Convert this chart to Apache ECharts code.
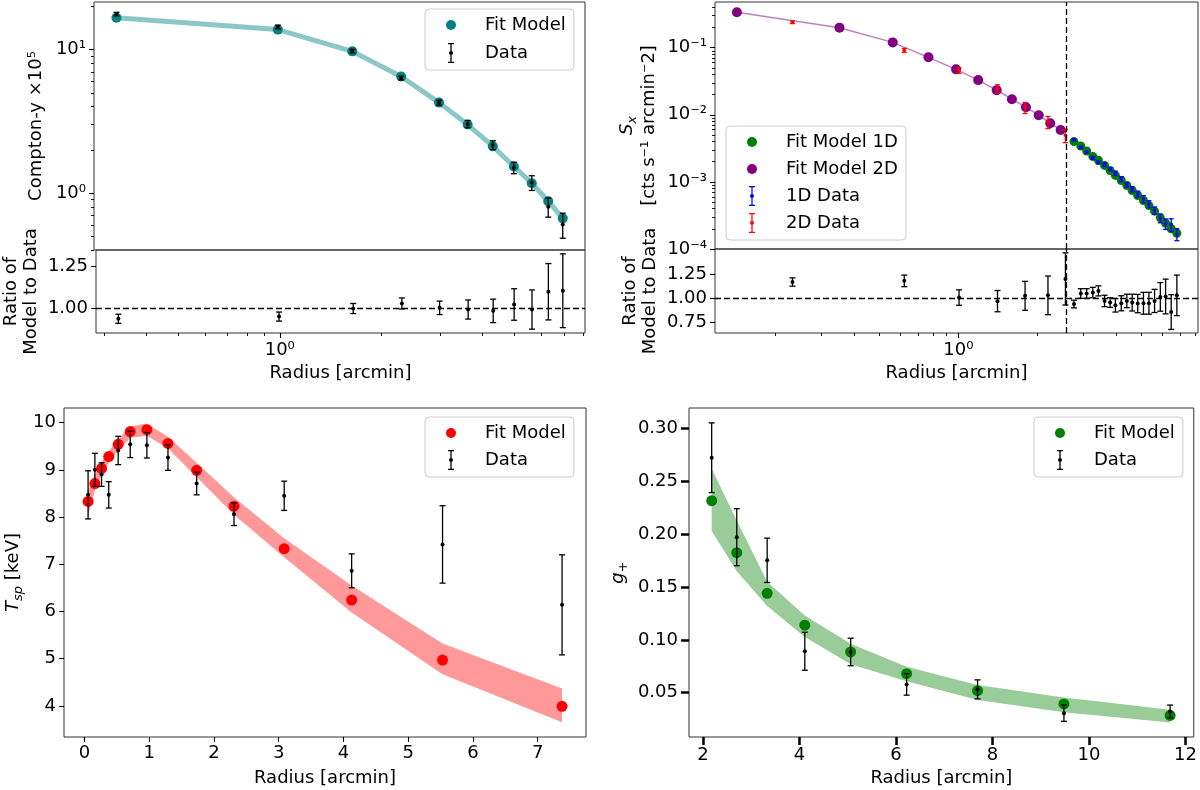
<!DOCTYPE html>
<html>
<head>
<meta charset="utf-8">
<script src="https://cdn.jsdelivr.net/npm/echarts@6.0.0/dist/echarts.min.js"></script>
<style>
html, body { margin: 0; padding: 0; background: #fff; }
#chart { width: 1200px; height: 790px; }
</style>
</head>
<body>
<div id="chart"></div>
<script>
// ---- values ----

// top left: Compton-y profile
var tlRadius = [0.331, 0.995, 1.654, 2.308, 2.988, 3.633, 4.313, 4.979, 5.627, 6.295, 6.95];
var tlModel = [16.7, 13.8, 9.73, 6.50, 4.27, 3.00, 2.12, 1.53, 1.17, 0.876, 0.665];
var tlData = [17.7, 14.4, 9.77, 6.34, 4.27, 3.03, 2.16, 1.50, 1.18, 0.80, 0.603];
var tlDataErr = [0.51, 0.42, 0.29, 0.20, 0.17, 0.175, 0.153, 0.138, 0.139, 0.122, 0.12];
var tlRatio = [0.935, 0.948, 0.996, 1.026, 1.0, 0.99, 0.982, 1.02, 0.99, 1.096, 1.102];
var tlRatioErr = [0.027, 0.027, 0.03, 0.033, 0.04, 0.057, 0.07, 0.094, 0.117, 0.168, 0.22];

// top right: X-ray surface brightness
var trRadiusModel2D = [0.143, 0.352, 0.562, 0.769, 0.98, 1.19, 1.40, 1.60, 1.81, 2.025, 2.24, 2.454];
var trModel2D = [0.338, 0.199, 0.120, 0.0719, 0.0476, 0.0329, 0.0233, 0.0171, 0.0130, 0.00987, 0.00749, 0.00594];
var trRadius2D = [0.233, 0.622, 1.006, 1.41, 1.796, 2.196, 2.56];
var trData2D = [0.240, 0.0914, 0.0459, 0.0247, 0.01285, 0.00784, 0.00496];
var trData2DErr = [0.011, 0.0062, 0.0042, 0.0033, 0.0024, 0.0016, 0.00112];
var trRadius1D = [2.76, 2.93, 3.085, 3.255, 3.42, 3.61, 3.79, 3.97, 4.18, 4.39, 4.60, 4.83, 5.08, 5.33, 5.60, 5.89, 6.17, 6.48, 6.81];
var trModel1D = [0.00399, 0.00343, 0.00289, 0.00240, 0.00210, 0.00176, 0.00148, 0.00125, 0.00105, 0.000885, 0.000745, 0.000627, 0.000528, 0.000444, 0.000366, 0.000292, 0.000242, 0.000200, 0.000172];
var trData1D = [0.00424, 0.00327, 0.00276, 0.00227, 0.00195, 0.00181, 0.00155, 0.00135, 0.00111, 0.000910, 0.000780, 0.000663, 0.000557, 0.000468, 0.000377, 0.000288, 0.000238, 0.000233, 0.000167];
var trData1DErr = [0.000127, 0.000124, 0.000105, 0.000116, 0.000094, 0.00011, 0.000081, 0.000102, 0.000091, 0.000066, 0.000071, 0.000066, 0.000066, 0.000056, 0.000046, 0.000042, 0.000042, 0.000049, 0.000034];
var trRatio2D = [1.168, 1.18, 1.007, 0.97, 1.025, 1.03, 1.2];
var trRatio2DErr = [0.043, 0.06, 0.08, 0.11, 0.15, 0.2, 0.27];
var trRatio1D = [0.94, 1.049, 1.049, 1.059, 1.076, 0.972, 0.955, 0.927, 0.948, 0.972, 0.955, 0.945, 0.948, 0.948, 0.972, 1.014, 1.018, 0.857, 1.03];
var trRatio1DErr = [0.04, 0.05, 0.05, 0.054, 0.052, 0.059, 0.05, 0.07, 0.078, 0.07, 0.087, 0.095, 0.113, 0.113, 0.12, 0.148, 0.18, 0.18, 0.21];
var trSplitRadius = 2.57;

// bottom left: spectroscopic temperature
var blRadius = [0.055, 0.160, 0.263, 0.374, 0.52, 0.706, 0.963, 1.289, 1.732, 2.309, 3.084, 4.126, 5.53, 7.376];
var blModel = [8.33, 8.71, 9.03, 9.28, 9.54, 9.81, 9.85, 9.56, 8.99, 8.23, 7.33, 6.24, 4.97, 3.99];
var blUpper = [8.55, 8.9, 9.15, 9.4, 9.65, 9.92, 9.98, 9.7, 9.15, 8.42, 7.55, 6.55, 5.32, 4.37];
var blLower = [8.02, 8.55, 8.9, 9.15, 9.4, 9.68, 9.72, 9.45, 8.85, 8.05, 7.15, 5.98, 4.67, 3.65];
var blData = [8.47, 9.0, 8.90, 8.47, 9.41, 9.54, 9.52, 9.26, 8.71, 8.06, 8.45, 6.86, 7.42, 6.14];
var blDataErr = [0.51, 0.35, 0.25, 0.28, 0.30, 0.28, 0.27, 0.27, 0.24, 0.24, 0.31, 0.36, 0.82, 1.06];

// bottom right: reduced shear
var brRadius = [2.18, 2.70, 3.33, 4.11, 5.06, 6.22, 7.69, 9.48, 11.68];
var brModel = [0.2317, 0.1825, 0.144, 0.1139, 0.0885, 0.0679, 0.0519, 0.0393, 0.0284];
var brUpper = [0.262, 0.213, 0.155, 0.123, 0.0964, 0.0744, 0.0572, 0.0453, 0.0337];
var brLower = [0.203, 0.165, 0.132, 0.1026, 0.0769, 0.0609, 0.0431, 0.0315, 0.0218];
var brData = [0.2724, 0.1972, 0.1753, 0.0892, 0.0885, 0.0578, 0.0531, 0.0306, 0.0322];
var brDataErr = [0.033, 0.027, 0.021, 0.018, 0.013, 0.0102, 0.009, 0.0078, 0.006];

// tick positions
var logMajorX = [1];
var tlMinorX = [0.3, 0.4, 0.5, 0.6, 0.7, 0.8, 0.9, 2, 3, 4, 5, 6, 7, 8];
var trMinorX = [0.2, 0.3, 0.4, 0.5, 0.6, 0.7, 0.8, 0.9, 2, 3, 4, 5, 6, 7, 8];
var tlMajorY = [1, 10];
var tlMinorY = [0.4, 0.5, 0.6, 0.7, 0.8, 0.9, 2, 3, 4, 5, 6, 7, 8, 9, 20];
var trMajorY = [1e-4, 1e-3, 1e-2, 1e-1];
var trMinorY = [];
[1e-4, 1e-3, 1e-2].forEach(function (d) {
  for (var k = 2; k <= 9; k++) trMinorY.push(+(k * d).toPrecision(3));
});
trMinorY.push(0.2, 0.3, 0.4);
var tlRatioTicks = [1.0, 1.25];
var trRatioTicks = [0.75, 1.0, 1.25];
var blTicksX = [0, 1, 2, 3, 4, 5, 6, 7];
var blTicksY = [4, 5, 6, 7, 8, 9, 10];
var brTicksX = [2, 4, 6, 8, 10, 12];
var brTicksY = [0.05, 0.10, 0.15, 0.20, 0.25, 0.30];

// ---- helpers ----
var FONT = 'DejaVu Sans';
var SUP = { '-': '\u207b', '0': '\u2070', '1': '\u00b9', '2': '\u00b2', '3': '\u00b3', '4': '\u2074',
  '5': '\u2075', '6': '\u2076', '7': '\u2077', '8': '\u2078', '9': '\u2079' };
function pow10(v) {
  var e = String(Math.round(Math.log(v) / Math.LN10));
  return '10' + e.split('').map(function (c) { return SUP[c]; }).join('');
}
function fix2(v) { return (+v).toFixed(2); }
function intFmt(v) { return String(Math.round(v)); }

function pairs(xs, ys) { return xs.map(function (x, i) { return [x, ys[i]]; }); }
function errRows(xs, ys, es) {
  return xs.map(function (x, i) { return [x, ys[i], ys[i] - es[i], ys[i] + es[i]]; });
}
function bandRows(xs, lo, hi) { return xs.map(function (x, i) { return [x, lo[i], hi[i]]; }); }

function errorBars(color, cap, dot) {
  return function (params, api) {
    var x = api.value(0);
    var c = api.coord([x, api.value(1)]);
    var lo = api.coord([x, api.value(2)]);
    var hi = api.coord([x, api.value(3)]);
    var ln = { stroke: color, lineWidth: 1.3 };
    return {
      type: 'group',
      children: [
        { type: 'line', shape: { x1: lo[0], y1: lo[1], x2: hi[0], y2: hi[1] }, style: ln },
        { type: 'line', shape: { x1: lo[0] - cap, y1: lo[1], x2: lo[0] + cap, y2: lo[1] }, style: ln },
        { type: 'line', shape: { x1: hi[0] - cap, y1: hi[1], x2: hi[0] + cap, y2: hi[1] }, style: ln },
        { type: 'circle', shape: { cx: c[0], cy: c[1], r: dot }, style: { fill: color } }
      ]
    };
  };
}
// filled model band, drawn once from the whole row set
function band(xs, lo, hi, fill) {
  return function (params, api) {
    if (params.dataIndex !== 0) return null;
    var pts = [];
    for (var i = 0; i < xs.length; i++) pts.push(api.coord([xs[i], hi[i]]));
    for (var j = xs.length - 1; j >= 0; j--) pts.push(api.coord([xs[j], lo[j]]));
    return { type: 'polygon', shape: { points: pts }, style: { fill: fill } };
  };
}

function ticks(vals, len, w) {
  return { show: true, customValues: vals, length: len, lineStyle: { color: '#000', width: w } };
}
function labels(vals, fmt, margin) {
  return { show: true, customValues: vals, formatter: fmt, margin: margin,
    fontFamily: FONT, fontSize: 18, color: '#000' };
}
var nameStyle = {
  fontFamily: FONT, fontSize: 18, color: '#000', lineHeight: 20,
  rich: {
    i: { fontFamily: FONT, fontSize: 18, fontStyle: 'italic', lineHeight: 24, color: '#000' },
    s: { fontFamily: FONT, fontSize: 13, fontStyle: 'italic', verticalAlign: 'bottom', color: '#000' },
    p: { fontFamily: FONT, fontSize: 13, verticalAlign: 'bottom', color: '#000' }
  }
};
function axis(o) {
  var a = { axisLine: { show: false, onZero: false }, splitLine: { show: false },
    axisTick: { show: false }, axisLabel: { show: false } };
  for (var k in o) a[k] = o[k];
  return a;
}
function yName(text, gap) {
  return { name: text, nameLocation: 'middle', nameRotate: 90, nameGap: gap, nameTextStyle: nameStyle };
}
function xName(gap) {
  return { name: 'Radius [arcmin]', nameLocation: 'middle', nameGap: gap, nameTextStyle: nameStyle };
}
function merge(a, b) { for (var k in b) a[k] = b[k]; return a; }

function dashed(data) {
  return { silent: true, symbol: ['none', 'none'], label: { show: false },
    lineStyle: { color: '#000', type: [6, 3], width: 1.3 }, data: data, animation: false };
}

// legend icons: boxes of 55x24 with the glyph at x=26
function dotIcon(r) {
  return 'path://M0,0 M55,24 M' + (26 + r) + ',12 A' + r + ',' + r + ' 0 1 1 ' + (26 - r) + ',12 A' +
    r + ',' + r + ' 0 1 1 ' + (26 + r) + ',12 Z';
}
var ERR_ICON = 'path://M0,0 M55,24 M23,2 L29,2 L29,3.3 L23,3.3 Z M25.35,3.3 L26.65,3.3 L26.65,20.7 L25.35,20.7 Z ' +
  'M23,20.7 L29,20.7 L29,22 L23,22 Z M28,12 A2,2 0 1 1 24,12 A2,2 0 1 1 28,12 Z';
function legendBox(left, top, gap, items) {
  return {
    left: left, top: top, orient: 'vertical', selectedMode: false,
    itemWidth: 55, itemHeight: 24, itemGap: gap, padding: [4, 8, 5, 0],
    backgroundColor: 'rgba(255,255,255,0.8)', borderColor: '#cccccc', borderWidth: 1, borderRadius: 4,
    textStyle: { fontFamily: FONT, fontSize: 18, color: '#000' },
    data: items
  };
}
function item(name, icon, color) {
  return { name: name, icon: icon, itemStyle: { color: color, borderWidth: 0 } };
}

var gridStyle = { show: true, borderColor: '#333', borderWidth: 1, backgroundColor: 'transparent' };

var chart = echarts.init(document.getElementById('chart'));
chart.setOption({
  animation: false,
  backgroundColor: '#fff',
  grid: [
    merge({ left: 94, top: 2, width: 491, height: 248 }, gridStyle),
    merge({ left: 94, top: 250, width: 491, height: 83 }, gridStyle),
    merge({ left: 715, top: 2, width: 483, height: 247 }, gridStyle),
    merge({ left: 715, top: 249, width: 483, height: 84 }, gridStyle),
    merge({ left: 56, top: 408, width: 530, height: 329 }, gridStyle),
    merge({ left: 689, top: 408, width: 506, height: 329 }, gridStyle)
  ],
  legend: [
    legendBox(425, 9, 4, [item('Fit Model', dotIcon(5), '#008080'), item('Data', ERR_ICON, '#000')]),
    legendBox(726, 126, 3, [item('Fit Model 1D', dotIcon(5), '#008000'), item('Fit Model 2D', dotIcon(5), '#800080'),
      item('1D Data', ERR_ICON, '#0000ff'), item('2D Data', ERR_ICON, '#ff0000')]),
    legendBox(425, 417, 3, [item('Fit Model', dotIcon(5), '#ff0000'), item('Data', ERR_ICON, '#000')]),
    legendBox(1034, 417, 3, [item('Fit Model', dotIcon(5), '#008000'), item('Data', ERR_ICON, '#000')])
  ],
  xAxis: [
    axis({ gridIndex: 0, type: 'log', min: 0.284, max: 8.09 }),
    axis(merge({ gridIndex: 1, type: 'log', min: 0.284, max: 8.09, position: 'bottom',
      axisTick: ticks(logMajorX, 5, 1.1), axisLabel: labels(logMajorX, pow10, 8) }, xName(30))),
    axis({ gridIndex: 1, type: 'log', min: 0.284, max: 8.09, position: 'bottom', axisTick: ticks(tlMinorX, 3, 0.9) }),
    axis({ gridIndex: 2, type: 'log', min: 0.118, max: 8.2 }),
    axis(merge({ gridIndex: 3, type: 'log', min: 0.118, max: 8.2, position: 'bottom',
      axisTick: ticks(logMajorX, 5, 1.1), axisLabel: labels(logMajorX, pow10, 8) }, xName(30))),
    axis({ gridIndex: 3, type: 'log', min: 0.118, max: 8.2, position: 'bottom', axisTick: ticks(trMinorX, 3, 0.9) }),
    axis(merge({ gridIndex: 4, type: 'value', min: -0.317, max: 7.746, position: 'bottom',
      axisTick: ticks(blTicksX, 5, 1.1), axisLabel: labels(blTicksX, intFmt, 7) }, xName(31))),
    axis(merge({ gridIndex: 5, type: 'value', min: 1.71, max: 12.17, position: 'bottom',
      axisTick: ticks(brTicksX, 8, 2.5), axisLabel: labels(brTicksX, intFmt, 9) }, xName(31)))
  ],
  yAxis: [
    axis(merge({ gridIndex: 0, type: 'log', min: 0.4, max: 21.5, position: 'left',
      axisTick: ticks(tlMajorY, 5, 1.1), axisLabel: labels(tlMajorY, pow10, 8) }, yName('Compton-y \u00d710\u2075', 48))),
    axis({ gridIndex: 0, type: 'log', min: 0.4, max: 21.5, position: 'left', axisTick: ticks(tlMinorY, 3, 0.9) }),
    axis(merge({ gridIndex: 1, type: 'value', min: 0.85, max: 1.345, position: 'left',
      axisTick: ticks(tlRatioTicks, 5, 1.1), axisLabel: labels(tlRatioTicks, fix2, 8) }, yName('Ratio of\nModel to Data', 55))),
    axis(merge({ gridIndex: 2, type: 'log', min: 1e-4, max: 0.48, position: 'left',
      axisTick: ticks(trMajorY, 5, 1.1), axisLabel: labels(trMajorY, pow10, 8) },
      yName('{i|S}{s|x}\n[cts s\u207b\u00b9 arcmin\u207b2]', 56))),
    axis({ gridIndex: 2, type: 'log', min: 1e-4, max: 0.48, position: 'left', axisTick: ticks(trMinorY, 3, 0.9) }),
    axis(merge({ gridIndex: 3, type: 'value', min: 0.64, max: 1.51, position: 'left',
      axisTick: ticks(trRatioTicks, 5, 1.1), axisLabel: labels(trRatioTicks, fix2, 8) }, yName('Ratio of\nModel to Data', 55))),
    axis(merge({ gridIndex: 4, type: 'value', min: 3.34, max: 10.31, position: 'left',
      axisTick: ticks(blTicksY, 5, 1.1), axisLabel: labels(blTicksY, intFmt, 8) }, yName('{i|T}{s|sp} [keV]', 39))),
    axis(merge({ gridIndex: 5, type: 'value', min: 0.008, max: 0.3195, position: 'left',
      axisTick: ticks(brTicksY, 8, 2.5), axisLabel: labels(brTicksY, fix2, 11) }, yName('{i|g}{p|+}', 59)))
  ],
  series: [
    // top left
    { type: 'line', name: 'tl-model-line', xAxisIndex: 0, yAxisIndex: 0, data: pairs(tlRadius, tlModel),
      symbol: 'none', lineStyle: { color: 'rgba(0,128,128,0.45)', width: 5 }, z: 1, silent: true },
    { type: 'scatter', name: 'Fit Model', xAxisIndex: 0, yAxisIndex: 0, data: pairs(tlRadius, tlModel),
      symbolSize: 10, itemStyle: { color: '#008080', opacity: 1 }, z: 3 },
    { type: 'custom', name: 'Data', xAxisIndex: 0, yAxisIndex: 0, data: errRows(tlRadius, tlData, tlDataErr),
      encode: { x: 0, y: 1 }, renderItem: errorBars('#000', 3, 2), z: 4 },
    { type: 'custom', name: 'tl-ratio', xAxisIndex: 1, yAxisIndex: 2, data: errRows(tlRadius, tlRatio, tlRatioErr),
      encode: { x: 0, y: 1 }, renderItem: errorBars('#000', 3, 2), z: 4, markLine: dashed([{ yAxis: 1 }]) },

    // top right
    { type: 'line', name: 'tr-model-line', xAxisIndex: 3, yAxisIndex: 3, data: pairs(trRadiusModel2D, trModel2D),
      symbol: 'none', lineStyle: { color: 'rgba(128,0,128,0.5)', width: 1.5 }, z: 1, silent: true,
      markLine: dashed([{ xAxis: trSplitRadius }]) },
    { type: 'scatter', name: 'Fit Model 1D', xAxisIndex: 3, yAxisIndex: 3, data: pairs(trRadius1D, trModel1D),
      symbolSize: 9, itemStyle: { color: '#008000', opacity: 1 }, z: 3 },
    { type: 'scatter', name: 'Fit Model 2D', xAxisIndex: 3, yAxisIndex: 3, data: pairs(trRadiusModel2D, trModel2D),
      symbolSize: 10, itemStyle: { color: '#800080', opacity: 1 }, z: 3 },
    { type: 'custom', name: '1D Data', xAxisIndex: 3, yAxisIndex: 3, data: errRows(trRadius1D, trData1D, trData1DErr),
      encode: { x: 0, y: 1 }, renderItem: errorBars('#0000ff', 2.5, 1.8), z: 4 },
    { type: 'custom', name: '2D Data', xAxisIndex: 3, yAxisIndex: 3, data: errRows(trRadius2D, trData2D, trData2DErr),
      encode: { x: 0, y: 1 }, renderItem: errorBars('#ff0000', 2.5, 1.8), z: 4 },
    { type: 'custom', name: 'tr-ratio', xAxisIndex: 4, yAxisIndex: 5,
      data: errRows(trRadius2D, trRatio2D, trRatio2DErr).concat(errRows(trRadius1D, trRatio1D, trRatio1DErr)),
      encode: { x: 0, y: 1 }, renderItem: errorBars('#000', 3, 2), z: 4,
      markLine: dashed([{ yAxis: 1 }, { xAxis: trSplitRadius }]) },

    // bottom left
    { type: 'custom', name: 'bl-band', xAxisIndex: 6, yAxisIndex: 6, data: bandRows(blRadius, blLower, blUpper),
      encode: { x: 0, y: [1, 2] }, renderItem: band(blRadius, blLower, blUpper, 'rgba(255,0,0,0.4)'), z: 1, silent: true },
    { type: 'scatter', name: 'Fit Model', xAxisIndex: 6, yAxisIndex: 6, data: pairs(blRadius, blModel),
      symbolSize: 11, itemStyle: { color: '#ff0000', opacity: 1 }, z: 3 },
    { type: 'custom', name: 'Data', xAxisIndex: 6, yAxisIndex: 6, data: errRows(blRadius, blData, blDataErr),
      encode: { x: 0, y: 1 }, renderItem: errorBars('#000', 3, 2), z: 4 },

    // bottom right
    { type: 'custom', name: 'br-band', xAxisIndex: 7, yAxisIndex: 7, data: bandRows(brRadius, brLower, brUpper),
      encode: { x: 0, y: [1, 2] }, renderItem: band(brRadius, brLower, brUpper, 'rgba(0,128,0,0.4)'), z: 1, silent: true },
    { type: 'scatter', name: 'Fit Model', xAxisIndex: 7, yAxisIndex: 7, data: pairs(brRadius, brModel),
      symbolSize: 11, itemStyle: { color: '#008000', opacity: 1 }, z: 3 },
    { type: 'custom', name: 'Data', xAxisIndex: 7, yAxisIndex: 7, data: errRows(brRadius, brData, brDataErr),
      encode: { x: 0, y: 1 }, renderItem: errorBars('#000', 3, 2), z: 4 }
  ]
});
</script>
</body>
</html>
